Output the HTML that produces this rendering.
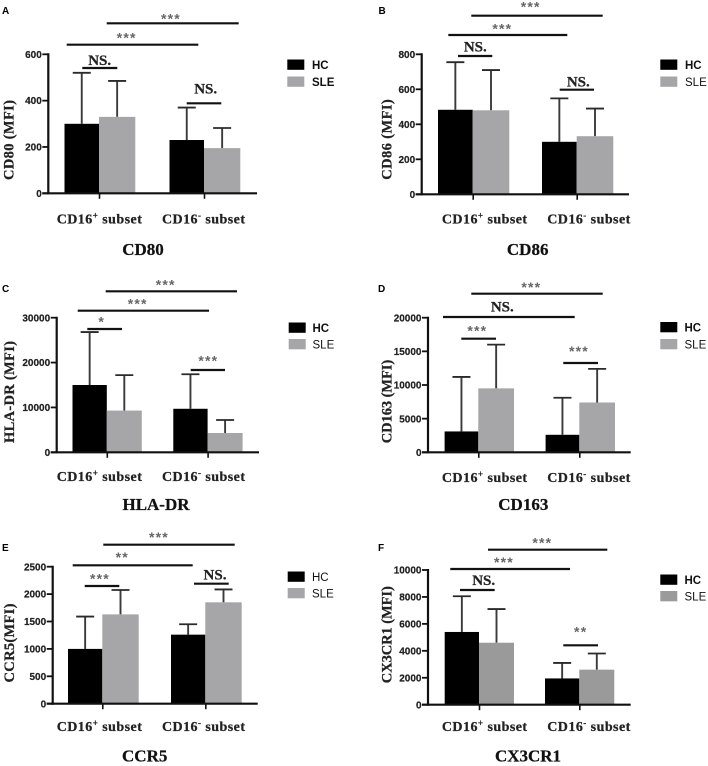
<!DOCTYPE html>
<html lang="en">
<head>
<meta charset="utf-8">
<title>Monocyte subset MFI charts</title>
<style>
html,body{margin:0;padding:0;background:#fff;width:708px;height:766px;overflow:hidden}
svg{display:block;filter:blur(0.35px)}
.tick{font:bold 10px "Liberation Sans",sans-serif;fill:#222;text-anchor:end;stroke:#222;stroke-width:.2px}
.cat{font:bold 14px "Liberation Serif",serif;fill:#222;text-anchor:middle;letter-spacing:.45px;stroke:#222;stroke-width:.25px}
.title{font:bold 17px "Liberation Serif",serif;fill:#111;text-anchor:middle;stroke:#111;stroke-width:.25px}
.ytitle{font:bold 14.5px "Liberation Serif",serif;fill:#222;text-anchor:middle;stroke:#222;stroke-width:.25px}
.leg{font:11.5px "Liberation Sans",sans-serif;fill:#111}
.letter{font:bold 10px "Liberation Sans",sans-serif;fill:#000}
.ns{font:bold 15px "Liberation Serif",serif;fill:#222;text-anchor:middle;stroke:#222;stroke-width:.25px}
.star{font:bold 14px "Liberation Sans",sans-serif;fill:#666;text-anchor:middle;letter-spacing:1.2px}
</style>
</head>
<body>
<svg id="figure" xmlns="http://www.w3.org/2000/svg" width="708" height="766" viewBox="0 0 708 766"></svg>
<script>
// ---- Data ----
const categories = ['CD16', 'CD16'];
const categorySigns = ['+', '-'];
const seriesNames = ['HC', 'SLE'];

const cd80Ticks = [0, 200, 400, 600];
const cd80Hc = [300, 230];
const cd80HcUpper = [520, 370];
const cd80Sle = [330, 195];
const cd80SleUpper = [485, 282];

const cd86Ticks = [0, 200, 400, 600, 800];
const cd86Hc = [483, 300];
const cd86HcUpper = [755, 548];
const cd86Sle = [480, 332];
const cd86SleUpper = [710, 490];

const hladrTicks = [0, 10000, 20000, 30000];
const hladrHc = [15000, 9700];
const hladrHcUpper = [26800, 17400];
const hladrSle = [9300, 4300];
const hladrSleUpper = [17200, 7200];

const cd163Ticks = [0, 5000, 10000, 15000, 20000];
const cd163Hc = [3100, 2600];
const cd163HcUpper = [11200, 8100];
const cd163Sle = [9500, 7400];
const cd163SleUpper = [16000, 12400];

const ccr5Ticks = [0, 500, 1000, 1500, 2000, 2500];
const ccr5Hc = [1000, 1260];
const ccr5HcUpper = [1590, 1450];
const ccr5Sle = [1630, 1850];
const ccr5SleUpper = [2075, 2085];

const cx3cr1Ticks = [0, 2000, 4000, 6000, 8000, 10000];
const cx3cr1Hc = [5400, 1950];
const cx3cr1HcUpper = [8050, 3100];
const cx3cr1Sle = [4600, 2600];
const cx3cr1SleUpper = [7100, 3800];

// ---- Drawing ----
const NS = 'http://www.w3.org/2000/svg';
const root = document.getElementById('figure');

function mk(parent, tag, attrs, text) {
  const el = document.createElementNS(NS, tag);
  for (const k in attrs) el.setAttribute(k, attrs[k]);
  if (text !== undefined) el.textContent = text;
  parent.appendChild(el);
  return el;
}

function line(parent, x1, y1, x2, y2, color, width) {
  return mk(parent, 'line', {x1: x1, y1: y1, x2: x2, y2: y2, stroke: color, 'stroke-width': width});
}

function drawPanel(cfg) {
  const g = mk(root, 'g', {});
  
  

  const maxV = cfg.ticks[cfg.ticks.length - 1];
  const yScale = function (v) { return cfg.y0 - (v / maxV) * (cfg.y0 - cfg.yTop); };

  const letter = mk(g, 'text', {class: 'letter', x: cfg.letterX, y: cfg.letterY}, cfg.letter);
  
  

  // bars + error bars
  cfg.centers.forEach(function (c, i) {
    const groups = [
      {v: cfg.hc[i], up: cfg.hcUp[i], x: c - cfg.hcW, w: cfg.hcW, fill: '#000', name: 'hc'},
      {v: cfg.sle[i], up: cfg.sleUp[i], x: c, w: cfg.sleW, fill: cfg.sleColor, name: 'sle'}
    ];
    groups.forEach(function (b) {
      const mid = b.x + b.w / 2;
      const err = mk(g, 'g', {});
      
      
      line(err, mid, yScale(b.v), mid, yScale(b.up), '#3a3a3a', 1.9);
      line(err, mid - 9, yScale(b.up), mid + 9, yScale(b.up), '#2a2a2a', 1.8);
      const rect = mk(g, 'rect', {x: b.x, y: yScale(b.v), width: b.w, height: cfg.y0 - yScale(b.v), fill: b.fill});
      
      
    });
  });

  // axes
  const yAxis = line(g, cfg.axisX, cfg.yTop - 1, cfg.axisX, cfg.y0 + 1, '#111', 2.2);
  
  
  const xAxis = line(g, cfg.axisX - 6, cfg.y0, cfg.xEnd, cfg.y0, '#111', 2.2);
  
  

  cfg.ticks.forEach(function (t) {
    line(g, cfg.axisX - 6, yScale(t), cfg.axisX, yScale(t), '#111', 1.8);
    const lab = mk(g, 'text', {class: 'tick', x: cfg.axisX - 6.5, y: yScale(t) + 3.6}, String(t));
    
    
  });

  cfg.centers.forEach(function (c, i) {
    line(g, c + 0.5, cfg.y0, c + 0.5, cfg.y0 + 5.5, '#111', 1.6);
    const lab = mk(g, 'text', {class: 'cat', x: cfg.catX[i], y: cfg.catY});
    
    
    mk(lab, 'tspan', {}, categories[i]);
    mk(lab, 'tspan', {dy: -5, 'font-size': 9}, categorySigns[i]);
    mk(lab, 'tspan', {dy: 5}, ' subset');
  });

  const yt = mk(g, 'text', {
    class: 'ytitle',
    transform: 'translate(' + cfg.yTitleX + ' ' + cfg.yTitleY + ') rotate(-90)',
    textLength: cfg.yTitleLen,
    lengthAdjust: 'spacing'
  }, cfg.yTitle);
  
  

  const title = mk(g, 'text', {class: 'title', x: cfg.titleX, y: cfg.titleY}, cfg.title);
  
  

  // legend
  seriesNames.forEach(function (n, i) {
    const e = mk(g, 'g', {});
    
    
    mk(e, 'rect', {x: cfg.legX, y: cfg.legY[i], width: 17, height: 10.3, fill: i === 0 ? '#000' : cfg.legColor});
    const t = mk(e, 'text', {class: 'leg', x: cfg.legTextX, y: cfg.legY[i] + 9.3}, n);
    t.style.fontWeight = cfg.legBold[i] ? 'bold' : 'normal';
  });

  // significance brackets
  cfg.brackets.forEach(function (b) {
    const s = mk(g, 'g', {});
    
    
    line(s, b[0], b[2], b[1], b[2], '#111', 2.2);
    const isNs = b[3] === 'NS.';
    mk(s, 'text', {class: isNs ? 'ns' : 'star', x: b[4], y: isNs ? b[5] + 5 : b[5] + 6}, b[3]);
  });
}

// Layout (pixels) is kept per panel; values come from the arrays above.
drawPanel({
  key: 'cd80', letter: 'A', letterX: 2, letterY: 14,
  ticks: cd80Ticks, hc: cd80Hc, hcUp: cd80HcUpper, sle: cd80Sle, sleUp: cd80SleUpper,
  axisX: 48.3, y0: 193.3, yTop: 54.3, xEnd: 257,
  centers: [99, 204], hcW: 34.5, sleW: 36.3, sleColor: '#a6a6a8', legColor: '#a6a6a8',
  catX: [99.5, 203.7], catY: 223.5,
  yTitle: 'CD80 (MFI)', yTitleX: 13.5, yTitleY: 140, yTitleLen: 80,
  title: 'CD80', titleX: 143, titleY: 255,
  legX: 287.3, legY: [59.5, 76.5], legTextX: 312, legBold: [true, true],
  brackets: [
    [106.7, 238.7, 23.3, '***', 171, 17.3],
    [66.7, 198.3, 44.7, '***', 126.7, 36.7],
    [82.3, 117.3, 68, 'NS.', 99.7, 60],
    [186.7, 221.3, 103.3, 'NS.', 205.7, 88.3]
  ]
});

drawPanel({
  key: 'cd86', letter: 'B', letterX: 378.5, letterY: 14,
  ticks: cd86Ticks, hc: cd86Hc, hcUp: cd86HcUpper, sle: cd86Sle, sleUp: cd86SleUpper,
  axisX: 421.7, y0: 194.3, yTop: 54.3, xEnd: 629,
  centers: [472.7, 576.7], hcW: 34.7, sleW: 36.6, sleColor: '#a6a6a8', legColor: '#a6a6a8',
  catX: [484.7, 589], catY: 223.5,
  yTitle: 'CD86 (MFI)', yTitleX: 391.7, yTitleY: 139.5, yTitleLen: 80.5,
  title: 'CD86', titleX: 527.7, titleY: 255,
  legX: 660.3, legY: [59.5, 76.5], legTextX: 685, legBold: [true, false],
  brackets: [
    [471.3, 602.7, 15.7, '***', 530.7, 5.3],
    [448.3, 567.3, 35, '***', 502.3, 27.3],
    [458, 492.3, 56, 'NS.', 475.3, 46.7],
    [559.7, 594, 89.7, 'NS.', 578.3, 81.7]
  ]
});

drawPanel({
  key: 'hla-dr', letter: 'C', letterX: 2, letterY: 292,
  ticks: hladrTicks, hc: hladrHc, hcUp: hladrHcUpper, sle: hladrSle, sleUp: hladrSleUpper,
  axisX: 56.7, y0: 452.3, yTop: 317.7, xEnd: 259,
  centers: [106.8, 207.6], hcW: 34.3, sleW: 35, sleColor: '#a6a6a8', legColor: '#a6a6a8',
  catX: [99.5, 203.7], catY: 481,
  yTitle: 'HLA-DR  (MFI)', yTitleX: 14, yTitleY: 392, yTitleLen: 102,
  title: 'HLA-DR', titleX: 156, titleY: 510,
  legX: 288.7, legY: [322.5, 339], legTextX: 312.5, legBold: [true, false],
  brackets: [
    [105.7, 237, 291.3, '***', 165.7, 283.3],
    [77.7, 209, 310.7, '***', 137.7, 302.7],
    [87.3, 122, 329, '*', 101.7, 320.7],
    [190.7, 225, 370, '***', 208.3, 359.7]
  ]
});

drawPanel({
  key: 'cd163', letter: 'D', letterX: 378, letterY: 292,
  ticks: cd163Ticks, hc: cd163Hc, hcUp: cd163HcUpper, sle: cd163Sle, sleUp: cd163SleUpper,
  axisX: 428, y0: 452.3, yTop: 317.7, xEnd: 630.7,
  centers: [478.3, 579.3], hcW: 33.7, sleW: 35.7, sleColor: '#a6a6a8', legColor: '#a6a6a8',
  catX: [484.7, 589], catY: 482,
  yTitle: 'CD163 (MFI)', yTitleX: 391.7, yTitleY: 401.5, yTitleLen: 83.5,
  title: 'CD163', titleX: 523.3, titleY: 510,
  legX: 660.3, legY: [322, 339], legTextX: 684.5, legBold: [true, false],
  brackets: [
    [471.3, 602.7, 293.7, '***', 531.3, 286],
    [443, 574.7, 317, 'NS.', 502.3, 306.7],
    [461.3, 496, 338.7, '***', 477.3, 329.3],
    [563.3, 598, 363, '***', 579, 350]
  ]
});

drawPanel({
  key: 'ccr5', letter: 'E', letterX: 2, letterY: 551,
  ticks: ccr5Ticks, hc: ccr5Hc, hcUp: ccr5HcUpper, sle: ccr5Sle, sleUp: ccr5SleUpper,
  axisX: 52.7, y0: 703.7, yTop: 566.7, xEnd: 257.7,
  centers: [102.3, 205.3], hcW: 34.3, sleW: 36.4, sleColor: '#a6a6a8', legColor: '#a6a6a8',
  catX: [99.5, 203.7], catY: 731,
  yTitle: 'CCR5(MFI)', yTitleX: 14, yTitleY: 643, yTitleLen: 79,
  title: 'CCR5', titleX: 144.7, titleY: 761.7,
  legX: 287.7, legY: [571.5, 588], legTextX: 312, legBold: [false, false],
  brackets: [
    [103.3, 234.7, 544.7, '***', 159, 536],
    [72.7, 192.7, 565.3, '**', 122.3, 556],
    [84.7, 119.3, 586, '***', 100, 577.3],
    [194, 228.7, 583.7, 'NS.', 215, 574.3]
  ]
});

drawPanel({
  key: 'cx3cr1', letter: 'F', letterX: 378, letterY: 551,
  ticks: cx3cr1Ticks, hc: cx3cr1Hc, hcUp: cx3cr1HcUpper, sle: cx3cr1Sle, sleUp: cx3cr1SleUpper,
  axisX: 428, y0: 704.7, yTop: 570, xEnd: 630.7,
  centers: [479, 579.3], hcW: 34.3, sleW: 35, sleColor: '#9a9a9a', legColor: '#9a9a9a',
  catX: [484.7, 589], catY: 731,
  yTitle: 'CX3CR1 (MFI)', yTitleX: 391.7, yTitleY: 634.7, yTitleLen: 97,
  title: 'CX3CR1', titleX: 528, titleY: 761.7,
  legX: 660.3, legY: [574.5, 591], legTextX: 684.5, legBold: [true, false],
  brackets: [
    [488, 607.3, 549.7, '***', 542.3, 541.7],
    [450.3, 570, 569, '***', 504, 561],
    [460, 494.7, 590, 'NS.', 483.7, 580],
    [563.3, 598, 645.3, '**', 580.7, 630.3]
  ]
});
</script>
</body>
</html>
